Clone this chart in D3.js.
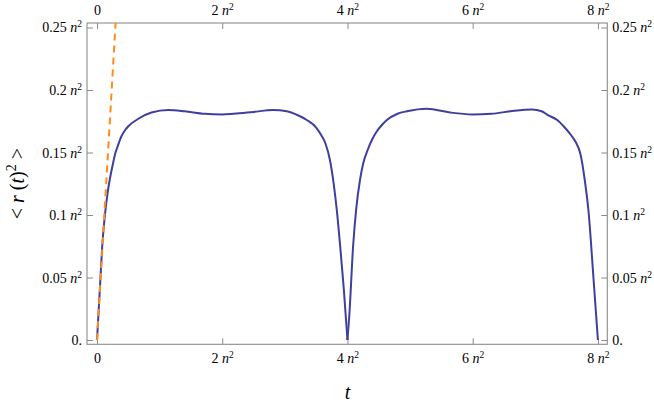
<!DOCTYPE html>
<html>
<head>
<script src="https://d3js.org/d3.v7.min.js"></script>
<style>
body { margin: 0; background: #fff; }
.tick line { stroke: #8a8a8a; }
text { font-family: "Liberation Serif", "DejaVu Serif", "Times New Roman", Times, "Nimbus Roman", "FreeSerif", "Noto Serif", serif; }
</style>
</head>
<body>
<div id="chart"></div>
<script>
// first period, t in units of n^2
var tA = [0, 0.02, 0.05, 0.083, 0.126, 0.17, 0.206, 0.25, 0.29, 0.33, 0.39, 0.45, 0.5, 0.66, 0.87, 1.14, 1.4, 1.72, 2.0, 2.18, 2.5, 2.81, 3.03, 3.2, 3.35, 3.5, 3.58, 3.65, 3.72, 3.78, 3.83, 3.88, 3.94, 4.0];
var rA = [0, 0.018, 0.045, 0.075, 0.1, 0.118, 0.129, 0.140, 0.149, 0.155, 0.163, 0.168, 0.171, 0.177, 0.182, 0.184, 0.183, 0.181, 0.1805, 0.181, 0.1825, 0.184, 0.183, 0.180, 0.176, 0.170, 0.164, 0.157, 0.144, 0.125, 0.104, 0.077, 0.042, 0];
// second period
var tB = [4.0, 4.03, 4.09, 4.14, 4.2, 4.25, 4.33, 4.39, 4.47, 4.55, 4.63, 4.8, 4.95, 5.27, 5.64, 6.0, 6.3, 6.6, 6.95, 7.1, 7.2, 7.35, 7.47, 7.57, 7.65, 7.72, 7.79, 7.85, 7.93, 8.0];
var rB = [0, 0.02, 0.075, 0.105, 0.128, 0.141, 0.153, 0.160, 0.167, 0.172, 0.176, 0.181, 0.183, 0.185, 0.182, 0.1805, 0.181, 0.183, 0.1845, 0.183, 0.180, 0.176, 0.170, 0.164, 0.158, 0.149, 0.128, 0.103, 0.049, 0];
// short-time asymptote (dashed)
var tLin = [0, 0.31];
var rLin = [0, 0.265];

var xTicks = [0, 2, 4, 6, 8];
var yTicks = [0, 0.05, 0.1, 0.15, 0.2, 0.25];

var margin = {top: 23, left: 87},
    width = 520.3,
    height = 321.3;

var svg = d3.select("#chart").append("svg")
    .attr("width", 654).attr("height", 404)
    .append("g")
    .attr("transform", "translate(" + margin.left + "," + margin.top + ")");

var x = d3.scaleLinear().domain([-0.16, 8.15]).range([0, width]);
var y = d3.scaleLinear().domain([-0.0034, 0.2536]).range([height, 0]);

svg.append("clipPath").attr("id", "clip")
   .append("rect").attr("width", width).attr("height", height);

function label(text, v, zero) {
  text.text(null);
  if (v === 0) { text.text(zero); return; }
  text.append("tspan").text(v + " ");
  text.append("tspan").attr("font-style", "italic").text("n");
  text.append("tspan").attr("font-size", "9.5px").attr("dy", "-5").text("2");
}

function styleAxis(g, zero) {
  g.attr("font-family", null).attr("font-size", "14px");
  g.select(".domain").remove();
  g.selectAll(".tick text").attr("fill", "#000")
   .each(function(d) { label(d3.select(this), d, zero); });
}

svg.append("g")
   .attr("transform", "translate(0," + height + ")")
   .call(d3.axisBottom(x).tickValues(xTicks).tickSizeInner(-6).tickSizeOuter(0).tickPadding(9).tickFormat(""))
   .call(function(g) { styleAxis(g, "0"); });
svg.append("g")
   .call(d3.axisTop(x).tickValues(xTicks).tickSizeInner(-6).tickSizeOuter(0).tickPadding(8).tickFormat(""))
   .call(function(g) { styleAxis(g, "0"); });
svg.append("g")
   .call(d3.axisLeft(y).tickValues(yTicks).tickSizeInner(-6).tickSizeOuter(0).tickPadding(5).tickFormat(""))
   .call(function(g) { styleAxis(g, "0."); });
svg.append("g")
   .attr("transform", "translate(" + width + ",0)")
   .call(d3.axisRight(y).tickValues(yTicks).tickSizeInner(-6).tickSizeOuter(0).tickPadding(5).tickFormat(""))
   .call(function(g) { styleAxis(g, "0."); });

// frame
svg.append("rect")
   .attr("width", width).attr("height", height)
   .attr("fill", "none").attr("stroke", "#8c8c8c").attr("stroke-width", 1.1);

var line = d3.line()
    .x(function(d) { return x(d[0]); })
    .y(function(d) { return y(d[1]); })
    .curve(d3.curveMonotoneX);

var blue = "#3f3f9f";
svg.append("path")
   .datum(tA.map(function(t, i) { return [t, rA[i]]; }))
   .attr("d", line).attr("fill", "none").attr("stroke", blue).attr("stroke-width", 2);
svg.append("path")
   .datum(tB.map(function(t, i) { return [t, rB[i]]; }))
   .attr("d", line).attr("fill", "none").attr("stroke", blue).attr("stroke-width", 2);

svg.append("path")
   .datum(tLin.map(function(t, i) { return [t, rLin[i]]; }))
   .attr("clip-path", "url(#clip)")
   .attr("d", d3.line().x(function(d) { return x(d[0]); }).y(function(d) { return y(d[1]); }))
   .attr("fill", "none").attr("stroke", "#ff8c1a").attr("stroke-width", 2)
   .attr("stroke-dasharray", "7,5");

// axis titles
svg.append("text")
   .attr("x", x(4)).attr("y", 399 - margin.top)
   .attr("text-anchor", "middle").attr("font-size", "20px").attr("font-style", "italic")
   .text("t");

var yl = svg.append("text")
   .attr("transform", "translate(" + (24 - margin.left) + "," + (height / 2) + ")rotate(-90)")
   .attr("text-anchor", "middle").attr("font-size", "20px");
yl.append("tspan").text("< ");
yl.append("tspan").attr("font-style", "italic").text("r");
yl.append("tspan").text(" (");
yl.append("tspan").attr("font-style", "italic").text("t");
yl.append("tspan").text(")");
yl.append("tspan").attr("font-size", "14px").attr("dy", "-8").text("2");
yl.append("tspan").attr("dy", "8").text(" >");
</script>
</body>
</html>
